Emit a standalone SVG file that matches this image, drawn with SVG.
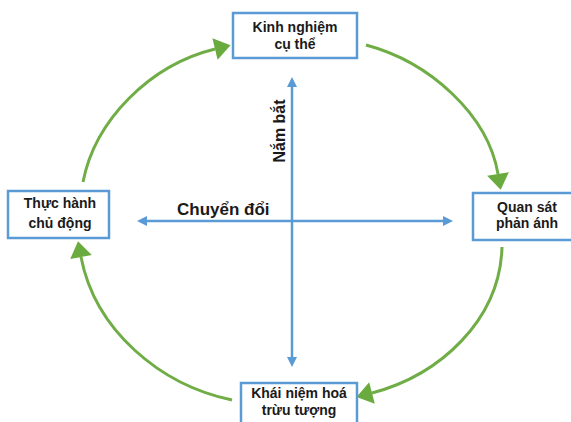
<svg xmlns="http://www.w3.org/2000/svg" width="571" height="422" viewBox="0 0 571 422">
<style>
.box{fill:#fff;stroke:#5B9BD5;stroke-width:2.5}
.lbl{font-family:"Liberation Sans",Arial,sans-serif;font-weight:bold;font-size:14px;fill:#1a1a1a;text-anchor:middle}
.ax{font-family:"Liberation Sans",Arial,sans-serif;font-weight:bold;fill:#1a1a1a}
.arc{fill:none;stroke:#70AD47;stroke-width:3;marker-end:url(#ga)}
.axis{fill:none;stroke:#5B9BD5;stroke-width:2.5;marker-start:url(#ba);marker-end:url(#ba)}
</style>
<defs>
<marker id="ga" markerUnits="userSpaceOnUse" markerWidth="16" markerHeight="22" refX="0" refY="11" orient="auto" overflow="visible">
<path d="M0,0 L16,11 L0,22 z" fill="#6AAB3F"/>
</marker>
<marker id="ba" markerUnits="userSpaceOnUse" markerWidth="10" markerHeight="10" refX="0" refY="5" orient="auto-start-reverse" overflow="visible">
<path d="M0,0 L10,5 L0,10 z" fill="#5B9BD5"/>
</marker>
</defs>
<g id="connectors">
<path class="axis" d="M292,357 L292,87"/>
<path class="axis" d="M443,221 L147,221"/>
<path class="arc" d="M366,45 C430,62 488,115 498,174"/>
<path class="arc" d="M502,247 C500,320 440,375 372,393"/>
<path class="arc" d="M232,400 C160,385 95,330 81,257"/>
<path class="arc" d="M83,182 C95,120 150,65 215,49"/>
<text class="ax" x="177" y="215" font-size="17">Chuyển đổi</text>
<text class="ax" x="0" y="0" font-size="16" text-anchor="middle" transform="translate(285,131) rotate(-90)">Nắm bắt</text>
</g>
<g id="node-top">
<rect class="box" x="233" y="13" width="124" height="45"/>
<text class="lbl" x="295" y="32">Kinh nghiệm</text>
<text class="lbl" x="295" y="49">cụ thể</text>
</g>
<g id="node-right">
<rect class="box" x="473" y="193" width="110" height="47"/>
<text class="lbl" x="527" y="212">Quan sát</text>
<text class="lbl" x="527" y="228">phản ánh</text>
</g>
<g id="node-bottom">
<rect class="box" x="241" y="383" width="116" height="45"/>
<text class="lbl" x="299" y="398">Khái niệm hoá</text>
<text class="lbl" x="299" y="415">trừu tượng</text>
</g>
<g id="node-left">
<rect class="box" x="8" y="191" width="101" height="47"/>
<text class="lbl" x="60" y="208">Thực hành</text>
<text class="lbl" x="60" y="228">chủ động</text>
</g>
</svg>
